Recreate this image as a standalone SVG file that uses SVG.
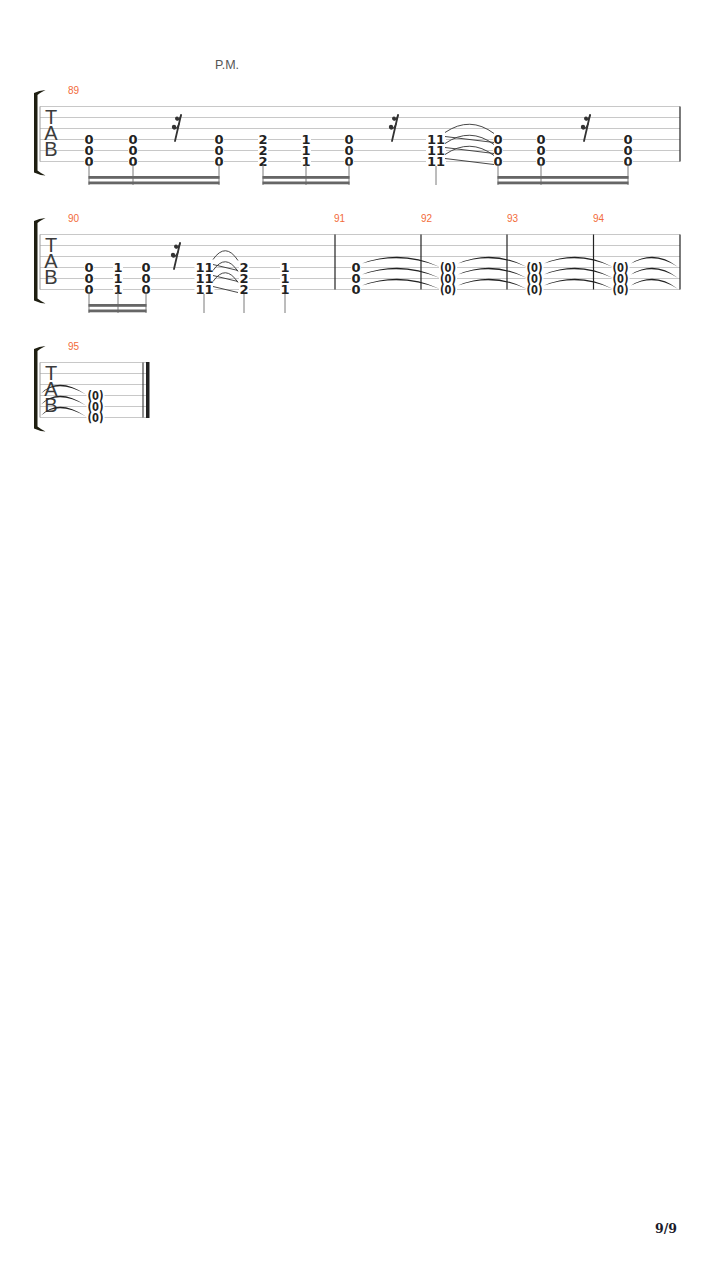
<svg xmlns="http://www.w3.org/2000/svg" xmlns:xlink="http://www.w3.org/1999/xlink" width="720" height="1280" viewBox="0 0 720 1280">
<style>
.sl{stroke:#c8c8c8;stroke-width:1}
.bar{stroke:#222;stroke-width:1.2}
.lbar{stroke:#9a9a9a;stroke-width:1}
.num{font-family:"DejaVu Sans",sans-serif;font-weight:bold;font-size:13px;fill:#222;text-anchor:middle}
.tab{font-family:"Liberation Sans",Arial,sans-serif;font-size:20px;fill:#3c3c3c;text-anchor:middle}
.mn{font-family:"Liberation Sans",Arial,sans-serif;font-size:10px;fill:#f26b3a}
.pm{font-family:"Liberation Sans",Arial,sans-serif;font-size:12.5px;fill:#555}
.pg{font-family:"DejaVu Serif",serif;font-weight:bold;font-size:12.5px;fill:#1a1a2a}
.stem{stroke:#7a7a7a;stroke-width:1}
.beam{fill:#666}
.ko{fill:#fff}
.slur{fill:none;stroke:#333;stroke-width:0.9}
.tie{fill:#222}
.bracket{fill:#1f1f12}
.rs{fill:none;stroke:#333;stroke-width:1.8;stroke-linecap:round}
.rd{fill:#333}
</style>
<defs>
<g id="rest">
<path class="rs" d="M0 0 L-6 26"/>
<circle class="rd" cx="-4" cy="3.5" r="2"/>
<path class="rs" style="stroke-width:1.3" d="M-4 5 Q-1.5 5 0 0.5"/>
<circle class="rd" cx="-7" cy="12" r="2.2"/>
<path class="rs" style="stroke-width:1.3" d="M-7 14 Q-4 14 -2 9"/>
</g>
<path id="brk" class="bracket" d="M34 93 Q39 90.5 45.5 90 Q40.5 92.5 37.5 95 L37.5 170.5 Q40.5 173 45.5 175.5 Q39 175 34 172.5 Z"/>
<g id="staff">
<line class="sl" x1="40" y1="106.5" x2="680" y2="106.5"/>
<line class="sl" x1="40" y1="117.5" x2="680" y2="117.5"/>
<line class="sl" x1="40" y1="128.5" x2="680" y2="128.5"/>
<line class="sl" x1="40" y1="139.5" x2="680" y2="139.5"/>
<line class="sl" x1="40" y1="150.5" x2="680" y2="150.5"/>
<line class="sl" x1="40" y1="161.5" x2="680" y2="161.5"/>
<line class="lbar" x1="40" y1="106.5" x2="40" y2="161.5"/>
</g>
<g id="staffshort">
<line class="sl" x1="40" y1="106.5" x2="149" y2="106.5"/>
<line class="sl" x1="40" y1="117.5" x2="149" y2="117.5"/>
<line class="sl" x1="40" y1="128.5" x2="149" y2="128.5"/>
<line class="sl" x1="40" y1="139.5" x2="149" y2="139.5"/>
<line class="sl" x1="40" y1="150.5" x2="149" y2="150.5"/>
<line class="sl" x1="40" y1="161.5" x2="149" y2="161.5"/>
<line class="lbar" x1="40" y1="106.5" x2="40" y2="161.5"/>
</g>
</defs>
<rect width="720" height="1280" fill="#fff"/>

<text class="pm" x="215" y="68.5">P.M.</text>

<!-- System 1 -->
<g id="system1">
<use xlink:href="#brk"/>
<use xlink:href="#staff"/>
<line class="bar" x1="680" y1="106.5" x2="680" y2="161.5"/>
<text class="tab" x="51" y="124.3">T</text>
<text class="tab" x="51" y="140">A</text>
<text class="tab" x="51" y="155.7">B</text>
<text class="mn" x="68" y="94">89</text>
<g id="ko1">
<rect class="ko" x="84" y="133.5" width="10" height="34"/>
<rect class="ko" x="128" y="133.5" width="10" height="34"/>
<rect class="ko" x="214" y="133.5" width="10" height="34"/>
<rect class="ko" x="258" y="133.5" width="10" height="34"/>
<rect class="ko" x="301" y="133.5" width="10" height="34"/>
<rect class="ko" x="344" y="133.5" width="10" height="34"/>
<rect class="ko" x="426" y="133.5" width="20" height="34"/>
<rect class="ko" x="493" y="133.5" width="10" height="34"/>
<rect class="ko" x="536" y="133.5" width="10" height="34"/>
<rect class="ko" x="623" y="133.5" width="10" height="34"/>
</g>
<g id="m89-c1" class="num"><text x="89" y="144">0</text><text x="89" y="155">0</text><text x="89" y="166">0</text></g>
<g id="m89-c2" class="num"><text x="133" y="144">0</text><text x="133" y="155">0</text><text x="133" y="166">0</text></g>
<g id="m89-c3" class="num"><text x="219" y="144">0</text><text x="219" y="155">0</text><text x="219" y="166">0</text></g>
<g id="m89-c4" class="num"><text x="263" y="144">2</text><text x="263" y="155">2</text><text x="263" y="166">2</text></g>
<g id="m89-c5" class="num"><text x="306" y="144">1</text><text x="306" y="155">1</text><text x="306" y="166">1</text></g>
<g id="m89-c6" class="num"><text x="349" y="144">0</text><text x="349" y="155">0</text><text x="349" y="166">0</text></g>
<g id="m89-c7" class="num"><text x="436" y="144">11</text><text x="436" y="155">11</text><text x="436" y="166">11</text></g>
<g id="m89-c8" class="num"><text x="498" y="144">0</text><text x="498" y="155">0</text><text x="498" y="166">0</text></g>
<g id="m89-c9" class="num"><text x="541" y="144">0</text><text x="541" y="155">0</text><text x="541" y="166">0</text></g>
<g id="m89-c10" class="num"><text x="628" y="144">0</text><text x="628" y="155">0</text><text x="628" y="166">0</text></g>
<use xlink:href="#rest" x="181" y="115"/>
<use xlink:href="#rest" x="398" y="115"/>
<use xlink:href="#rest" x="590" y="115"/>
<g id="stems1">
<line class="stem" x1="89" y1="165" x2="89" y2="185"/>
<line class="stem" x1="133" y1="165" x2="133" y2="185"/>
<line class="stem" x1="219" y1="165" x2="219" y2="185"/>
<line class="stem" x1="263" y1="165" x2="263" y2="185"/>
<line class="stem" x1="306" y1="165" x2="306" y2="185"/>
<line class="stem" x1="349" y1="165" x2="349" y2="185"/>
<line class="stem" x1="436" y1="166" x2="436" y2="185"/>
<line class="stem" x1="498" y1="165" x2="498" y2="185"/>
<line class="stem" x1="541" y1="165" x2="541" y2="185"/>
<line class="stem" x1="628" y1="165" x2="628" y2="185"/>
<rect class="beam" x="88.5" y="176" width="131" height="2.8"/>
<rect class="beam" x="88.5" y="181.5" width="131" height="2.8"/>
<rect class="beam" x="262.5" y="176" width="87" height="2.8"/>
<rect class="beam" x="262.5" y="181.5" width="87" height="2.8"/>
<rect class="beam" x="497.5" y="176" width="131" height="2.8"/>
<rect class="beam" x="497.5" y="181.5" width="131" height="2.8"/>
</g>
</g>

<!-- System 2 -->
<g id="system2">
<use xlink:href="#brk" y="128"/>
<use xlink:href="#staff" y="128"/>
<line class="bar" x1="335" y1="234.5" x2="335" y2="289.5"/>
<line class="bar" x1="421" y1="234.5" x2="421" y2="289.5"/>
<line class="bar" x1="507" y1="234.5" x2="507" y2="289.5"/>
<line class="bar" x1="593.5" y1="234.5" x2="593.5" y2="289.5"/>
<line class="bar" x1="680" y1="234.5" x2="680" y2="289.5"/>
<text class="tab" x="51" y="252.3">T</text>
<text class="tab" x="51" y="268">A</text>
<text class="tab" x="51" y="283.7">B</text>
<text class="mn" x="68" y="222">90</text>
<text class="mn" x="334" y="222">91</text>
<text class="mn" x="421" y="222">92</text>
<text class="mn" x="507" y="222">93</text>
<text class="mn" x="593" y="222">94</text>
<g id="ko2">
<rect class="ko" x="84" y="261.5" width="10" height="34"/>
<rect class="ko" x="113" y="261.5" width="10" height="34"/>
<rect class="ko" x="141" y="261.5" width="10" height="34"/>
<rect class="ko" x="194.5" y="261.5" width="20" height="34"/>
<rect class="ko" x="239" y="261.5" width="10" height="34"/>
<rect class="ko" x="280" y="261.5" width="10" height="34"/>
<rect class="ko" x="351" y="261.5" width="10" height="34"/>
<rect class="ko" x="439" y="261.5" width="18" height="34"/>
<rect class="ko" x="525.5" y="261.5" width="18" height="34"/>
<rect class="ko" x="611.5" y="261.5" width="18" height="34"/>
</g>
<g id="m90-c1" class="num"><text x="89" y="272">0</text><text x="89" y="283">0</text><text x="89" y="294">0</text></g>
<g id="m90-c2" class="num"><text x="118" y="272">1</text><text x="118" y="283">1</text><text x="118" y="294">1</text></g>
<g id="m90-c3" class="num"><text x="146" y="272">0</text><text x="146" y="283">0</text><text x="146" y="294">0</text></g>
<g id="m90-c4" class="num"><text x="204.5" y="272">11</text><text x="204.5" y="283">11</text><text x="204.5" y="294">11</text></g>
<g id="m90-c5" class="num"><text x="244" y="272">2</text><text x="244" y="283">2</text><text x="244" y="294">2</text></g>
<g id="m90-c6" class="num"><text x="285" y="272">1</text><text x="285" y="283">1</text><text x="285" y="294">1</text></g>
<g id="m91" class="num"><text x="356" y="272">0</text><text x="356" y="283">0</text><text x="356" y="294">0</text></g>
<g id="m92" class="num"><text x="448" y="272" textLength="16" lengthAdjust="spacingAndGlyphs">(0)</text><text x="448" y="283" textLength="16" lengthAdjust="spacingAndGlyphs">(0)</text><text x="448" y="294" textLength="16" lengthAdjust="spacingAndGlyphs">(0)</text></g>
<g id="m93" class="num"><text x="534.5" y="272" textLength="16" lengthAdjust="spacingAndGlyphs">(0)</text><text x="534.5" y="283" textLength="16" lengthAdjust="spacingAndGlyphs">(0)</text><text x="534.5" y="294" textLength="16" lengthAdjust="spacingAndGlyphs">(0)</text></g>
<g id="m94" class="num"><text x="620.5" y="272" textLength="16" lengthAdjust="spacingAndGlyphs">(0)</text><text x="620.5" y="283" textLength="16" lengthAdjust="spacingAndGlyphs">(0)</text><text x="620.5" y="294" textLength="16" lengthAdjust="spacingAndGlyphs">(0)</text></g>
<use xlink:href="#rest" x="180" y="243"/>
<g id="stems2">
<line class="stem" x1="89" y1="293" x2="89" y2="313"/>
<line class="stem" x1="118" y1="293" x2="118" y2="313"/>
<line class="stem" x1="146" y1="293" x2="146" y2="313"/>
<line class="stem" x1="204" y1="294" x2="204" y2="313"/>
<line class="stem" x1="244" y1="294" x2="244" y2="313"/>
<line class="stem" x1="285" y1="294" x2="285" y2="313"/>
<rect class="beam" x="88.5" y="304" width="58" height="2.8"/>
<rect class="beam" x="88.5" y="309.5" width="58" height="2.8"/>
</g>
</g>

<!-- System 3 -->
<g id="system3">
<use xlink:href="#brk" y="256"/>
<use xlink:href="#staffshort" y="256"/>
<line x1="143" y1="362.5" x2="143" y2="417.5" stroke="#222" stroke-width="1"/>
<rect x="146" y="362" width="3.5" height="56" fill="#222"/>
<text class="tab" x="51" y="380.3">T</text>
<text class="tab" x="51" y="396">A</text>
<text class="tab" x="51" y="411.7">B</text>
<text class="mn" x="68" y="350">95</text>
<rect class="ko" x="86.5" y="389.5" width="18" height="34"/>
<g id="m95" class="num"><text x="95.5" y="400" textLength="16" lengthAdjust="spacingAndGlyphs">(0)</text><text x="95.5" y="411" textLength="16" lengthAdjust="spacingAndGlyphs">(0)</text><text x="95.5" y="422" textLength="16" lengthAdjust="spacingAndGlyphs">(0)</text></g>
</g>

<!-- Connectors: slurs, slides, ties -->
<g id="connectors">
<path class="slur" d="M445 132.5 Q470 115.5 494 133.5"/>
<path class="slur" d="M445 136.5 L494 142.5"/>
<path class="slur" d="M445 143.5 Q470 126.5 494 144.5"/>
<path class="slur" d="M445 147.5 L494 153.5"/>
<path class="slur" d="M445 154.5 Q470 137.5 494 155.5"/>
<path class="slur" d="M445 158.5 L494 164.5"/>

<path class="slur" d="M213 259.5 Q225.5 241.5 238 260.5"/>
<path class="slur" d="M213 264.5 L238 270.5"/>
<path class="slur" d="M213 270.5 Q225.5 252.5 238 271.5"/>
<path class="slur" d="M213 275.5 L238 281.5"/>
<path class="slur" d="M213 281.5 Q225.5 263.5 238 282.5"/>
<path class="slur" d="M213 286.5 L238 292.5"/>

<path class="tie" d="M362 263.5 Q401 248.5 440 267 Q401 251.5 362 263.5 Z"/>
<path class="tie" d="M362 274.5 Q401 259.5 440 278 Q401 262.5 362 274.5 Z"/>
<path class="tie" d="M362 285.5 Q401 270.5 440 289 Q401 273.5 362 285.5 Z"/>
<path class="tie" d="M458 263.5 Q492.5 248.5 527 267 Q492.5 251.5 458 263.5 Z"/>
<path class="tie" d="M458 274.5 Q492.5 259.5 527 278 Q492.5 262.5 458 274.5 Z"/>
<path class="tie" d="M458 285.5 Q492.5 270.5 527 289 Q492.5 273.5 458 285.5 Z"/>
<path class="tie" d="M544 263.5 Q578.5 248.5 613 267 Q578.5 251.5 544 263.5 Z"/>
<path class="tie" d="M544 274.5 Q578.5 259.5 613 278 Q578.5 262.5 544 274.5 Z"/>
<path class="tie" d="M544 285.5 Q578.5 270.5 613 289 Q578.5 273.5 544 285.5 Z"/>
<path class="tie" d="M631 263.5 Q654.5 248.5 678 267 Q654.5 251.5 631 263.5 Z"/>
<path class="tie" d="M631 274.5 Q654.5 259.5 678 278 Q654.5 262.5 631 274.5 Z"/>
<path class="tie" d="M631 285.5 Q654.5 270.5 678 289 Q654.5 273.5 631 285.5 Z"/>

<path class="tie" d="M41 393.5 Q58 375.5 86 394.5 Q58 378.5 41 393.5 Z"/>
<path class="tie" d="M41 404.5 Q58 386.5 86 405.5 Q58 389.5 41 404.5 Z"/>
<path class="tie" d="M41 415.5 Q58 397.5 86 416.5 Q58 400.5 41 415.5 Z"/>
</g>

<text class="pg" x="655" y="1233">9/9</text>
</svg>
